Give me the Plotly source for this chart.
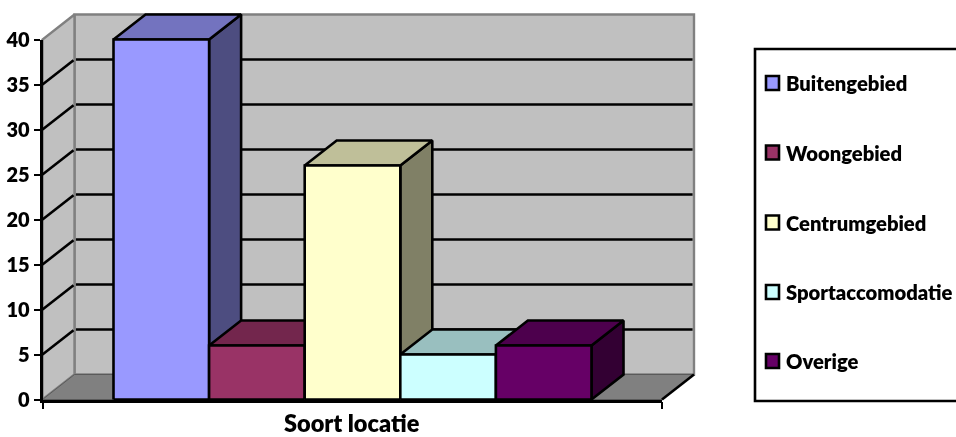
import plotly.graph_objects as go

# Data
categories = ["Buitengebied", "Woongebied", "Centrumgebied", "Sportaccomodatie", "Overige"]
values = [40, 6, 26, 5, 6]
front_colors = ["#9999FF", "#993366", "#FFFFCC", "#CCFFFF", "#660066"]
top_colors = ["#7373BF", "#73264D", "#BFBF99", "#99BFBF", "#4D004D"]
side_colors = ["#4D4D80", "#4D1A33", "#808066", "#668080", "#330033"]
value_ticks = [0, 5, 10, 15, 20, 25, 30, 35, 40]
x_title = "Soort locatie"

W, H = 956, 437
PX_PER_VALUE = 9.0
PX_PER_BAR = 95.6
X0_PX, Y0_PX = 113.5, 399.5        # left of first bar, value 0
AXIS_L_PX, AXIS_R_PX = 42.5, 662.0
DEPTH_X = 32.0 / PX_PER_BAR
DEPTH_Y = 25.0 / PX_PER_VALUE
FONT = "Lato"
LW = 2.6

xr = [(0 - X0_PX) / PX_PER_BAR, (W - X0_PX) / PX_PER_BAR]
yr = [(Y0_PX - H) / PX_PER_VALUE, Y0_PX / PX_PER_VALUE]
x_left = (AXIS_L_PX - X0_PX) / PX_PER_BAR
x_right = (AXIS_R_PX - X0_PX) / PX_PER_BAR
v_max = max(value_ticks)

fig = go.Figure()


def poly(xs, ys, fill, line="#000000", lw=LW):
    fig.add_trace(go.Scatter(
        x=list(xs) + [xs[0]], y=list(ys) + [ys[0]], mode="lines", fill="toself",
        fillcolor=fill, line=dict(color=line, width=lw), hoverinfo="skip", showlegend=False,
    ))


def seg(xs, ys, color="#000000", lw=LW):
    fig.add_trace(go.Scatter(
        x=xs, y=ys, mode="lines", line=dict(color=color, width=lw),
        hoverinfo="skip", showlegend=False,
    ))


# Walls and floor
poly([x_left + DEPTH_X, x_right + DEPTH_X, x_right + DEPTH_X, x_left + DEPTH_X],
     [DEPTH_Y, DEPTH_Y, v_max + DEPTH_Y, v_max + DEPTH_Y], "#C0C0C0", "#808080", 2.4)
poly([x_left, x_left + DEPTH_X, x_left + DEPTH_X, x_left],
     [0, DEPTH_Y, v_max + DEPTH_Y, v_max], "#C0C0C0", "#808080", 2.4)
poly([x_left, x_right, x_right + DEPTH_X, x_left + DEPTH_X],
     [0, 0, DEPTH_Y, DEPTH_Y], "#808080", "#5A5A5A", 1)

# Gridlines on the side and back walls
for v in value_ticks[1:-1]:
    seg([x_left, x_left + DEPTH_X - 0.01], [v, v + DEPTH_Y - 0.08])
    seg([x_left + DEPTH_X + 0.015, x_right + DEPTH_X - 0.015], [v + DEPTH_Y, v + DEPTH_Y])
seg([x_right, x_right + DEPTH_X], [0, DEPTH_Y])

# Bars, left to right
for i, v in enumerate(values):
    poly([i + 1, i + 1 + DEPTH_X, i + 1 + DEPTH_X, i + 1], [0, DEPTH_Y, v + DEPTH_Y, v], side_colors[i])
    poly([i, i + 1, i + 1 + DEPTH_X, i + DEPTH_X], [v, v, v + DEPTH_Y, v + DEPTH_Y], top_colors[i])
    poly([i, i + 1, i + 1, i], [0, 0, v, v], front_colors[i])

# Invisible trace that carries the real value axis
fig.add_trace(go.Scatter(x=[x_left, x_right], y=[0, v_max], mode="markers", opacity=0,
                         xaxis="x2", yaxis="y2", hoverinfo="skip", showlegend=False))

# Legend
LEG_Y = [83, 152.5, 222.5, 292, 361]
shapes = [dict(type="rect", xref="paper", yref="paper", x0=755 / W, x1=1.02,
               y0=1 - 401 / H, y1=1 - 49 / H, line=dict(color="#000000", width=2.6),
               fillcolor="#FFFFFF", layer="below")]
annotations = []
legfont = dict(family=FONT, size=20.2, color="#000000", weight=800)
for name, col, py in zip(categories, front_colors, LEG_Y):
    shapes.append(dict(type="rect", xref="paper", yref="paper", x0=766 / W, x1=779 / W,
                       y0=1 - (py + 7) / H, y1=1 - (py - 7) / H,
                       line=dict(color="#000000", width=2.6), fillcolor=col))
    annotations.append(dict(xref="paper", yref="paper", x=783.5 / W, y=1 - py / H, text=name,
                            showarrow=False, xanchor="left", yanchor="middle", font=legfont))

tickfont = dict(family=FONT, size=20, color="#000000", weight=800)
titlefont = dict(family=FONT, size=23.5, color="#000000", weight=800)
annotations.append(dict(xref="paper", yref="paper", x=351.5 / W, y=0, text=x_title,
                        showarrow=False, xanchor="center", yanchor="bottom", yshift=-1,
                        font=titlefont, borderpad=0))
fig.update_layout(
    width=W, height=H, margin=dict(l=0, r=0, t=0, b=0, autoexpand=False),
    paper_bgcolor="#FFFFFF", plot_bgcolor="rgba(0,0,0,0)", showlegend=False,
    xaxis=dict(domain=[0, 1], range=xr, visible=False, fixedrange=True),
    yaxis=dict(domain=[0, 1], range=yr, visible=False, fixedrange=True),
    xaxis2=dict(domain=[AXIS_L_PX / W, AXIS_R_PX / W], range=[x_left, x_right], anchor="y2",
                showgrid=False, zeroline=False, showline=True, linecolor="#000000", linewidth=2.6,
                ticks="outside", ticklen=7, tickwidth=2, tickcolor="#000000",
                tickvals=[x_left, x_right], showticklabels=False, fixedrange=True),
    yaxis2=dict(domain=[1 - Y0_PX / H, 1 - (Y0_PX - v_max * PX_PER_VALUE) / H], range=[0, v_max],
                anchor="x2", showgrid=False, zeroline=False, showline=True, linecolor="#000000",
                linewidth=2.6, ticks="outside", ticklen=6, tickwidth=2, tickcolor="#000000",
                tickvals=value_ticks, ticktext=[str(t) for t in value_ticks], tickfont=tickfont,
                fixedrange=True),
    shapes=shapes, annotations=annotations,
)
fig.write_html("out.html", config={"displayModeBar": False},
               post_script="document.body.style.margin='0';")
